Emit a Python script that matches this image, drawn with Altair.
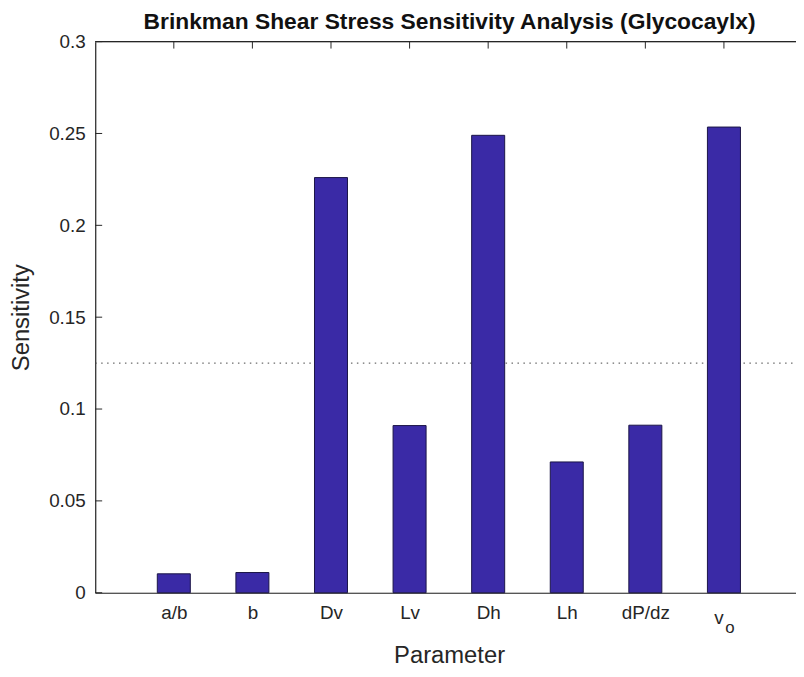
import altair as alt
import pandas as pd

# ---- data ----
params = ["a/b", "b", "Dv", "Lv", "Dh", "Lh", "dP/dz", "v"]
subscripts = ["", "", "", "", "", "", "", "o"]
sensitivity = [0.0103, 0.011, 0.226, 0.091, 0.249, 0.0712, 0.0912, 0.2535]
y_ticks = [0, 0.05, 0.1, 0.15, 0.2, 0.25, 0.3]
threshold = [0.125]

# ---- style / layout constants ----
W, H = 707, 556
FONT = "Liberation Sans"
AX = "#262626"
BAR_FILL = "#3a2aa6"
BAR_EDGE = "#1a1446"
TICK = 7

pos = list(range(1, len(params) + 1))
df = pd.DataFrame({"pos": pos, "param": params, "sens": sensitivity, "sub": subscripts})
df_y = pd.DataFrame({"v": y_ticks})
df_thr = pd.DataFrame({"v": threshold})

xscale = alt.Scale(domain=[0, 8.917], nice=False, zero=False)
yscale = alt.Scale(domain=[0, 0.3], nice=False, zero=False)

label_arr = "[" + ",".join("'" + (p if s == "" else "") + "'" for p, s in zip(params, subscripts)) + "]"

x_axis = alt.Axis(
    values=pos, labelExpr=f"{label_arr}[datum.value-1]", ticks=False, grid=False,
    domainColor=AX, domainWidth=1.2, labelColor=AX, labelFont=FONT, labelFontSize=19,
    labelPadding=11, title="Parameter", titleFont=FONT, titleFontSize=24,
    titleFontWeight="normal", titleColor=AX, titlePadding=21, titleX=357,
)
y_axis = alt.Axis(
    values=y_ticks, format=".2~f", ticks=False, grid=False,
    domainColor=AX, domainWidth=1.2, labelColor=AX, labelFont=FONT, labelFontSize=19,
    labelPadding=10, title="Sensitivity", titleFont=FONT, titleFontSize=24,
    titleFontWeight="normal", titleColor=AX, titlePadding=15,
)

base = alt.Chart(df)

thr = alt.Chart(df_thr).mark_rule(color="#444444", strokeWidth=1, strokeDash=[1.5, 4.5]).encode(
    y=alt.Y("v:Q", scale=yscale, axis=y_axis),
    x=alt.value(0), x2=alt.value(W),
)

bars = base.transform_calculate(
    x0="datum.pos - 0.21", x1="datum.pos + 0.21"
).mark_bar(fill=BAR_FILL, stroke=BAR_EDGE, strokeWidth=1).encode(
    x=alt.X("x0:Q", scale=xscale, axis=x_axis),
    x2="x1:Q",
    y=alt.Y("sens:Q", scale=yscale),
    y2=alt.datum(0),
)

top_line = alt.Chart(df_thr).mark_rule(color=AX, strokeWidth=1.2).encode(
    x=alt.value(0), x2=alt.value(W), y=alt.value(0)
)

ytick_marks = alt.Chart(df_y).mark_rule(color=AX, strokeWidth=1).encode(
    y=alt.Y("v:Q", scale=yscale), x=alt.value(0), x2=alt.value(TICK)
)

top_ticks = base.mark_rule(color=AX, strokeWidth=1).encode(
    x=alt.X("pos:Q", scale=xscale), y=alt.value(0), y2=alt.value(TICK)
)

main_lbl = base.transform_filter("datum.sub != ''").mark_text(
    font=FONT, fontSize=19, color=AX, baseline="alphabetic", dx=-5
).encode(x=alt.X("pos:Q", scale=xscale), y=alt.value(H + 32), text="param:N")

sub_lbl = base.transform_filter("datum.sub != ''").mark_text(
    font=FONT, fontSize=17, color=AX, baseline="alphabetic", dx=6
).encode(x=alt.X("pos:Q", scale=xscale), y=alt.value(H + 41), text="sub:N")

chart = alt.layer(
    thr, bars, top_line, ytick_marks, top_ticks, main_lbl, sub_lbl
).properties(
    width=W, height=H,
    title=alt.TitleParams(
        "Brinkman Shear Stress Sensitivity Analysis (Glycocaylx)",
        font=FONT, fontSize=23, fontWeight="bold", color="#111111",
        anchor="middle", offset=1, dx=4, dy=2,
    ),
    autosize=alt.AutoSizeParams(type="none"),
    padding={"left": 88, "top": 31, "right": 0, "bottom": 73},
).configure_view(stroke=None).configure(background="white")

chart.save("out.html", embed_options={"renderer": "svg", "actions": False})
